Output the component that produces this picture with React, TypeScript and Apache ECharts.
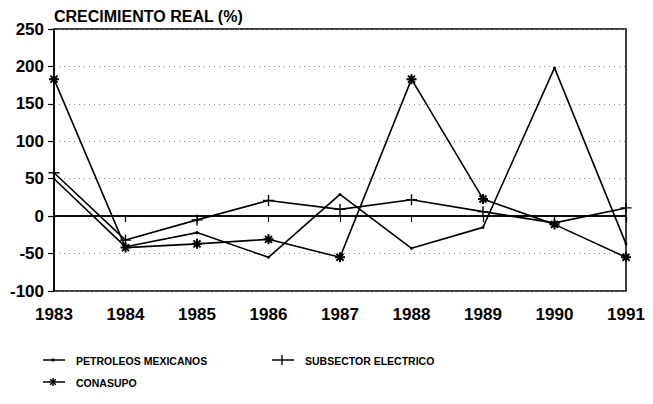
import React, { useEffect, useRef } from "react";
import * as echarts from "echarts";

const years = ["1983", "1984", "1985", "1986", "1987", "1988", "1989", "1990", "1991"];
const seriesNames = ["PETROLEOS MEXICANOS", "SUBSECTOR ELECTRICO", "CONASUPO"];
const petroleos = [50, -41, -22, -55, 29, -43, -15, 198, -37];
const subsector = [58, -32, -5, 21, 9, 22, 6, -9, 11];
const conasupo = [183, -42, -37, -31, -55, 183, 23, -11, -55];

const PLUS = "path://M5,0L5,10M0,5L10,5";
const STAR = "path://M5,0L5,10M0,5L10,5M1.5,1.5L8.5,8.5M1.5,8.5L8.5,1.5";

function legendItem(x: number, y: number, name: string, kind: string, font: string): any[] {
  const els: any[] = [
    { type: "line", shape: { x1: x, y1: y, x2: x + 22, y2: y }, style: { stroke: "#000", lineWidth: 1.5 } },
  ];
  const cx = x + 10;
  if (kind === "dot") {
    els.push({ type: "circle", shape: { cx, cy: y, r: 1.6 }, style: { fill: "#000" } });
  } else if (kind === "plus") {
    els.push({ type: "line", shape: { x1: cx, y1: y - 5, x2: cx, y2: y + 5 }, style: { stroke: "#000", lineWidth: 1.4 } });
  } else {
    const s = 4;
    els.push({ type: "line", shape: { x1: cx, y1: y - s, x2: cx, y2: y + s }, style: { stroke: "#000", lineWidth: 1.5 } });
    els.push({ type: "line", shape: { x1: cx - s * 0.7, y1: y - s * 0.7, x2: cx + s * 0.7, y2: y + s * 0.7 }, style: { stroke: "#000", lineWidth: 1.5 } });
    els.push({ type: "line", shape: { x1: cx - s * 0.7, y1: y + s * 0.7, x2: cx + s * 0.7, y2: y - s * 0.7 }, style: { stroke: "#000", lineWidth: 1.5 } });
  }
  els.push({
    type: "text",
    x: x + 33,
    y: y + 1,
    style: { text: name, fill: "#000", font: `bold 10.5px ${font}`, textVerticalAlign: "middle", textAlign: "left" },
  });
  return els;
}

export default function App() {
  const ref = useRef<HTMLDivElement>(null);
  useEffect(() => {
    document.body.style.margin = "0";
    const chart = echarts.init(ref.current!, null, { renderer: "svg" });
    const font = "'Liberation Sans', Arial, sans-serif";
    const lineStyle = { color: "#000", width: 1.6 };
    chart.setOption({
      animation: false,
      backgroundColor: "#fff",
      title: {
        text: "CRECIMIENTO REAL (%)",
        left: 49,
        top: 3,
        textStyle: { fontFamily: font, fontWeight: "bold", fontSize: 16, color: "#000" },
      },
      grid: {
        left: 54,
        right: 27,
        top: 29,
        bottom: 113,
        show: true,
        borderColor: "#000",
        borderWidth: 1.5,
      },
      xAxis: {
        type: "category",
        data: years,
        boundaryGap: false,
        axisLine: { lineStyle: { color: "#000", width: 1.5 } },
        axisTick: { show: true, length: 6, lineStyle: { color: "#000", width: 1.2 } },
        axisLabel: { color: "#000", fontFamily: font, fontWeight: "bold", fontSize: 17, margin: 15 },
        splitLine: { show: false },
      },
      yAxis: {
        type: "value",
        min: -100,
        max: 250,
        interval: 50,
        axisLine: { show: true, lineStyle: { color: "#000", width: 1.5 } },
        axisTick: { show: true, length: 6, lineStyle: { color: "#000", width: 1.2 } },
        axisLabel: { color: "#000", fontFamily: font, fontWeight: "bold", fontSize: 17, margin: 10 },
        splitLine: { show: true, lineStyle: { color: "#888", width: 1, type: [1, 4] } },
      },
      graphic: [
        ...legendItem(43, 360, seriesNames[0], "dot", font),
        ...legendItem(272, 360, seriesNames[1], "plus", font),
        ...legendItem(43, 382, seriesNames[2], "star", font),
      ],
      series: [
        {
          name: seriesNames[0],
          type: "line",
          data: petroleos,
          symbol: "circle",
          symbolSize: 3,
          itemStyle: { color: "#000" },
          lineStyle,
          markLine: {
            silent: true,
            symbol: "none",
            label: { show: false },
            lineStyle: { color: "#000", width: 1.5, type: "solid" },
            data: [{ yAxis: 0 }],
          },
        },
        {
          name: seriesNames[1],
          type: "line",
          data: subsector,
          symbol: PLUS,
          symbolSize: 11,
          itemStyle: { color: "#000", borderColor: "#000", borderWidth: 1.4 },
          lineStyle,
        },
        {
          name: seriesNames[2],
          type: "line",
          data: conasupo,
          symbol: STAR,
          symbolSize: 10,
          itemStyle: { color: "#000", borderColor: "#000", borderWidth: 2 },
          lineStyle,
        },
      ],
    });
    return () => chart.dispose();
  }, []);
  return <div ref={ref} style={{ width: 653, height: 404 }} />;
}
